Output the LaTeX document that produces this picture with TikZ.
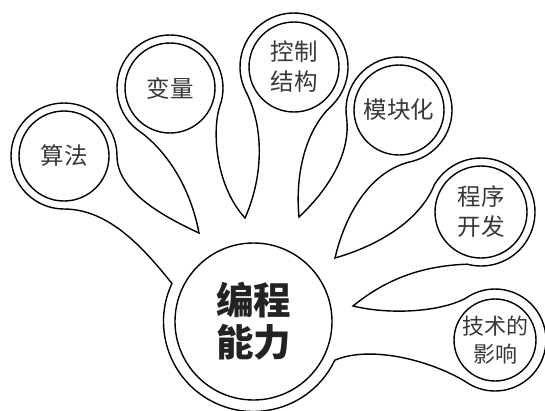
\documentclass[tikz,border=0pt]{standalone}
\usepackage{fontspec}
\newfontfamily\cjk{Noto Sans CJK SC}
\usetikzlibrary{calc}
\definecolor{txtgray}{RGB}{55,55,55}
\definecolor{maintxt}{RGB}{35,35,35}
\begin{document}
\begin{tikzpicture}[x=1pt,y=-1pt,line width=1.4pt,
  ring/.style={circle,draw,minimum size=#1,inner sep=0pt},
  lbl/.style={font=\cjk\fontsize{23.5}{30}\selectfont,text=txtgray,align=center},
  mainlbl/.style={font=\cjk\bfseries\fontsize{37.5}{42}\selectfont,text=maintxt,align=center}]
\useasboundingbox (0,0) rectangle (545,410);
% inner circles with labels
\node[ring=90pt,lbl] (sf) at (64,156) {算法};
\node[ring=90pt,lbl] (bl) at (170,88) {变量};
\node[ring=90pt,lbl] (kz) at (294,67) {控制\\结构};
\node[ring=90pt,lbl] (mk) at (399,110) {模块化};
\node[ring=92pt,lbl] (cx) at (481,212) {程序\\开发};
\node[ring=82pt,lbl,font=\cjk\fontsize{22}{28}\selectfont] (js) at (495,340) {技术的\\影响};
\node[ring=157pt,mainlbl] (bc) at (253.5,321.5) {编程\\能力};
% leaf tips
\coordinate (t1) at (199,233);
\coordinate (t2) at (245,218);
\coordinate (t3) at (299,217);
\coordinate (t4) at (335,258);
\coordinate (t5) at (353,306);
% outer hand-shaped contour
\draw ($(bc.center)+(205:90)$)
  .. controls (145,250) and (110,209) .. ($(sf.center)+(90:53)$)
  arc[start angle=90,end angle=360,radius=53]
  .. controls (117,190) and (160,215) .. (t1)
  .. controls (190,185) and (165,150) .. ($(bl.center)+(124:53)$)
  arc[start angle=124,end angle=380,radius=53]
  .. controls (212,130) and (215,185) .. (t2)
  .. controls (262,180) and (266,130) .. ($(kz.center)+(155:54)$)
  arc[start angle=155,end angle=405,radius=54]
  .. controls (305,130) and (295,175) .. (t3)
  .. controls (333,185) and (350,150) .. ($(mk.center)+(170:53)$)
  arc[start angle=170,end angle=435,radius=53]
  .. controls (370,170) and (345,215) .. (t4)
  .. controls (380,245) and (420,220) .. ($(cx.center)+(210:54)$)
  arc[start angle=210,end angle=465,radius=54]
  .. controls (420,266) and (385,280) .. (t5)
  .. controls (390,315) and (440,312) .. ($(js.center)+(235:51)$)
  arc[start angle=235,end angle=485,radius=51]
  .. controls (430,360) and (370,345) .. ($(bc.center)+(25.5:90)$)
  arc[start angle=25.5,end angle=205,radius=90]
  -- cycle;
\end{tikzpicture}
\end{document}
